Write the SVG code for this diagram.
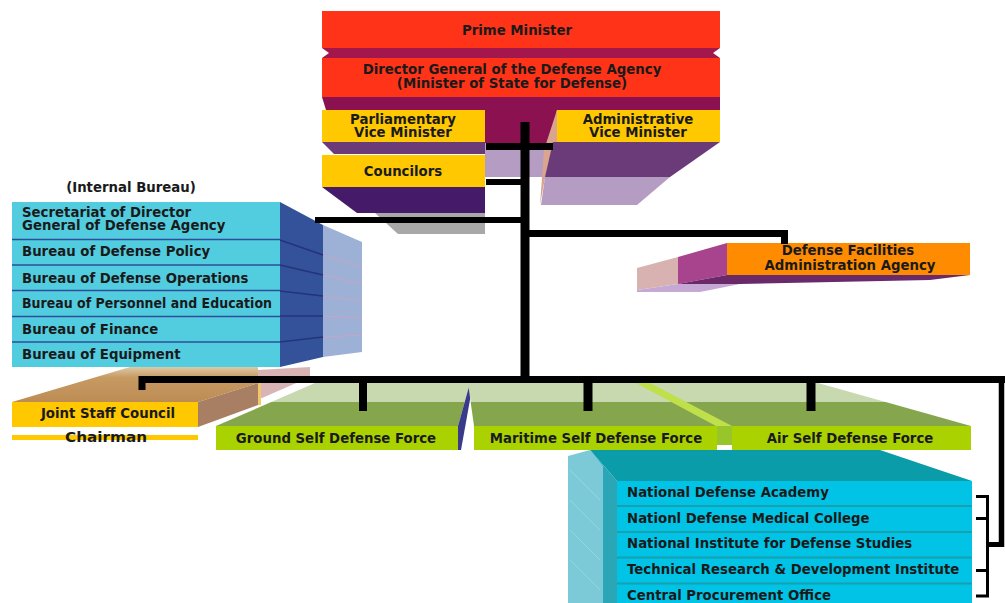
<svg xmlns="http://www.w3.org/2000/svg" width="1005" height="603" viewBox="0 0 1005 603">
<defs>
<style>
text{font-family:"DejaVu Sans","Liberation Sans",sans-serif;font-weight:bold;font-size:13.3px;fill:#1a1a1a}
.c{text-anchor:middle}
.sep{stroke:#2f4d98;stroke-width:1.5}
.isep{stroke:#17a0ae;stroke-width:2}
</style>
<linearGradient id="gtop" gradientUnits="userSpaceOnUse" x1="0" y1="383" x2="0" y2="426">
<stop offset="0" stop-color="#c8d9b0"/><stop offset="0.44" stop-color="#c8d9b0"/><stop offset="0.44" stop-color="#86a64e"/><stop offset="1" stop-color="#86a64e"/>
</linearGradient>
<linearGradient id="tan" gradientUnits="userSpaceOnUse" x1="0" y1="367" x2="0" y2="402">
<stop offset="0" stop-color="#dccaa8"/><stop offset="0.3" stop-color="#c79a62"/><stop offset="1" stop-color="#bd8c55"/>
</linearGradient>
</defs>
<rect width="1005" height="603" fill="#fff"/>

<g id="prime-minister">
<rect x="322" y="11" width="398" height="37" fill="#ff3318"/>
<text class="c" x="517" y="35">Prime Minister</text>
</g>

<g id="director-general">
<polygon points="322,48 720,48 713,53 720,58 322,58 329,53" fill="#a3174c"/>
<rect x="322" y="58" width="398" height="39" fill="#ff3318"/>
<polygon points="322,97 720,97 720,110 557,110 551,143 485,143 485,110 326,110" fill="#8c1150"/>
<polygon points="485,143 551,143 545,177 485,177" fill="#b59cc2"/>
<text class="c" x="512" y="74">Director General of the Defense Agency</text>
<text class="c" x="512" y="88">(Minister of State for Defense)</text>
</g>

<g id="parliamentary-vice-minister">
<rect x="322" y="110" width="163" height="32" fill="#ffc800"/>
<polygon points="322,142 485,142 485,154 334,154" fill="#6b3a78"/>
<text class="c" x="403" y="124">Parliamentary</text>
<text class="c" x="403" y="137">Vice Minister</text>
</g>

<g id="administrative-vice-minister">
<polygon points="557,110 557,142 545,178 540,205 544,150" fill="#d9a58e"/>
<polygon points="553,142 720,142 670,177 545,177" fill="#6b3a78"/>
<polygon points="545,177 670,177 637,205 541,205" fill="#b59cc2"/>
<rect x="557" y="110" width="163" height="32" fill="#ffc800"/>
<text class="c" x="638" y="124">Administrative</text>
<text class="c" x="638" y="137">Vice Minister</text>
</g>

<g id="councilors">
<polygon points="375,213 485,213 485,234 398,234" fill="#a8a8a8"/>
<polygon points="322,187 485,187 485,213 357,213" fill="#451a68"/>
<rect x="322" y="155" width="163" height="32" fill="#ffc800"/>
<text class="c" x="403" y="176">Councilors</text>
</g>

<g id="internal-bureau">
<text class="c" x="131" y="192">(Internal Bureau)</text>
<polygon points="323,225 362,242 362,352 323,357" fill="#9db0d6"/>
<polygon points="280,202 323,225 323,357 280,367" fill="#34529a"/>
<g stroke="#24347a" stroke-width="1.5">
<line x1="280" y1="240" x2="323" y2="255"/>
<line x1="280" y1="265" x2="323" y2="275"/>
<line x1="280" y1="291" x2="323" y2="296"/>
<line x1="280" y1="316" x2="323" y2="316"/>
<line x1="280" y1="342" x2="323" y2="337"/>
</g>
<g stroke="#c8a4c4" stroke-width="1">
<line x1="323" y1="255" x2="362" y2="267"/>
<line x1="323" y1="275" x2="362" y2="284"/>
<line x1="323" y1="296" x2="362" y2="301"/>
<line x1="323" y1="316" x2="362" y2="318"/>
<line x1="323" y1="337" x2="362" y2="335"/>
</g>
<rect x="12" y="202" width="268" height="165" fill="#52cde0"/>
<line class="sep" x1="12" y1="239.5" x2="280" y2="239.5"/>
<line class="sep" x1="12" y1="265" x2="280" y2="265"/>
<line class="sep" x1="12" y1="290.5" x2="280" y2="290.5"/>
<line class="sep" x1="12" y1="316.5" x2="280" y2="316.5"/>
<line class="sep" x1="12" y1="342" x2="280" y2="342"/>
<text x="22" y="217">Secretariat of Director</text>
<text x="22" y="230">General of Defense Agency</text>
<text x="22" y="256">Bureau of Defense Policy</text>
<text x="22" y="283">Bureau of Defense Operations</text>
<text x="22" y="308" textLength="250" lengthAdjust="spacingAndGlyphs">Bureau of Personnel and Education</text>
<text x="22" y="334">Bureau of Finance</text>
<text x="22" y="359">Bureau of Equipment</text>
</g>

<g id="defense-facilities">
<polygon points="637,268 678,257 678,284 637,290" fill="#d8b2b0"/>
<polygon points="637,290 678,284 740,284 700,292 637,292" fill="#c6a8d4"/>
<polygon points="678,257 727,243 727,275 678,284" fill="#a8448e"/>
<polygon points="678,284 727,275 970,275 930,280 740,284" fill="#6a2a6a"/>
<rect x="727" y="243" width="243" height="32" fill="#ff8c00"/>
<text class="c" x="848" y="255">Defense Facilities</text>
<text class="c" x="850" y="270">Administration Agency</text>
</g>

<g id="joint-staff-council">
<polygon points="258,370 310,367 310,377 262,398 258,398" fill="#d9b4b4"/>
<polygon points="12,402 130,367 258,367 258,383 198,402" fill="url(#tan)"/>
<polygon points="198,402 258,383 258,405 198,427" fill="#a87f62"/>
<rect x="258" y="383" width="3" height="22" fill="#f2c66a"/>
<rect x="12" y="402" width="186" height="25" fill="#ffc800"/>
<text class="c" x="108" y="418">Joint Staff Council</text>
<rect x="12" y="435" width="186" height="5" fill="#ffc800"/>
<text class="c" x="106" y="442" fill="#333" style="font-size:14.5px" textLength="82" lengthAdjust="spacingAndGlyphs">Chairman</text>
</g>

<g id="ground-sdf">
<polygon points="216,426 458,426 470,383 315,383" fill="url(#gtop)"/>
<polygon points="458,426 470,383 473,383 461,450 458,450" fill="#3a3a8a"/>
<rect x="216" y="426" width="242" height="24" fill="#aad200"/>
<text class="c" x="336" y="443">Ground Self Defense Force</text>
</g>

<g id="institutions">
<polygon points="590,450 880,450 972,481 617,481" fill="#0a9ca8"/>
<polygon points="568,456 590,450 617,481 617,603 568,603" fill="#7ccad8"/>
<polygon points="590,450 617,481 617,603 603,603 603,466" fill="#2aa6b6"/>
<g stroke="#a8e0ea" stroke-width="0.8" opacity="0.7">
<line x1="570" y1="470" x2="600" y2="500"/>
<line x1="570" y1="500" x2="600" y2="530"/>
<line x1="570" y1="530" x2="600" y2="560"/>
<line x1="570" y1="560" x2="600" y2="590"/>
</g>
<rect x="617" y="481" width="355" height="122" fill="#00c3e6"/>
<line class="isep" x1="617" y1="506" x2="972" y2="506"/>
<line class="isep" x1="617" y1="532" x2="972" y2="532"/>
<line class="isep" x1="617" y1="557.5" x2="972" y2="557.5"/>
<line class="isep" x1="617" y1="583.5" x2="972" y2="583.5"/>
<text x="627" y="497">National Defense Academy</text>
<text x="627" y="523">Nationl Defense Medical College</text>
<text x="627" y="548">National Institute for Defense Studies</text>
<text x="627" y="574">Technical Research &amp; Development Institute</text>
<text x="627" y="600">Central Procurement Office</text>
</g>

<g id="maritime-sdf">
<polygon points="468,383 645,383 723,426 474,426" fill="url(#gtop)"/>
<rect x="474" y="426" width="243" height="24" fill="#aad200"/>
<text class="c" x="596" y="443">Maritime Self Defense Force</text>
</g>

<g id="air-sdf">
<polygon points="645,383 818,383 971,426 723,426" fill="url(#gtop)"/>
<polygon points="636,383 650,383 732,426 716,426" fill="#bfe04a"/>
<rect x="717" y="426" width="15" height="19" fill="#98c62a"/>
<rect x="732" y="426" width="239" height="24" fill="#aad200"/>
<text class="c" x="850" y="443">Air Self Defense Force</text>
</g>

<g id="connectors" stroke="#000" fill="none">
<line x1="525" y1="122" x2="525" y2="383" stroke-width="9"/>
<line x1="486" y1="146.5" x2="553" y2="146.5" stroke-width="7"/>
<line x1="486" y1="182" x2="525" y2="182" stroke-width="6"/>
<line x1="315" y1="220" x2="525" y2="220" stroke-width="6"/>
<path d="M525,233.5 H784.5 V244" stroke-width="7"/>
<path d="M142,390 V379.5 H1005" stroke-width="7"/>
<line x1="363" y1="379" x2="363" y2="411" stroke-width="8"/>
<line x1="588" y1="379" x2="588" y2="411" stroke-width="9"/>
<line x1="811" y1="379" x2="811" y2="411" stroke-width="9"/>
<line x1="1001.5" y1="379" x2="1001.5" y2="547" stroke-width="5.5"/>
<line x1="986" y1="544.5" x2="1004" y2="544.5" stroke-width="5"/>
<path d="M976,496.5 H987.5 V596 H976" stroke-width="3"/>
<path d="M976,518.5 H987 M976,570.5 H987" stroke-width="3"/>
</g>
</svg>
